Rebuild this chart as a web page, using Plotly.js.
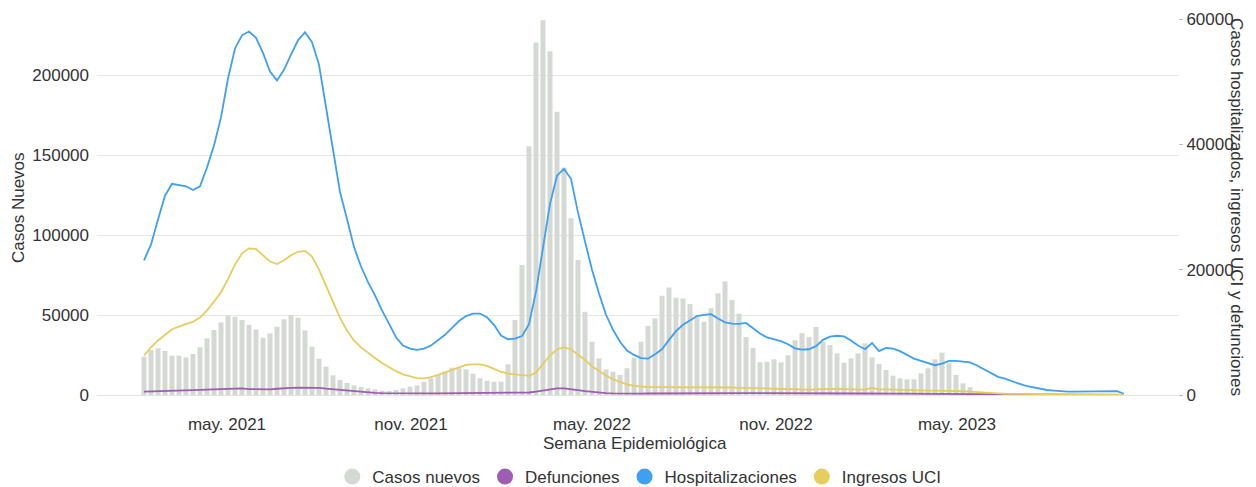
<!DOCTYPE html>
<html>
<head>
<meta charset="utf-8">
<script src="https://cdn.plot.ly/plotly-3.0.1.min.js"></script>
<style>
  html, body { margin: 0; padding: 0; background: #ffffff; }
  #chart { width: 1256px; height: 487px; }
</style>
</head>
<body>
<div id="chart"></div>
<script>
// ---- Data ----
// Epidemiological weeks: weekly, first week starting 2021-02-07
const firstWeek = '2021-02-07';
const nWeeks = 141;

// Weekly new cases (left axis), last weeks without bars
const casosNuevos = [23900, 28100, 29200, 27500, 24600, 24600, 23500, 25600, 29800, 35400,
  40600, 45400, 49600, 48900, 46900, 43750, 41000, 35800, 38500, 42700,
  47300, 50000, 48300, 40400, 30200, 22700, 17700, 12300, 9400, 7500,
  6000, 5000, 4200, 3500, 2700, 2500, 3100, 4200, 5200, 6000,
  8300, 10400, 12500, 14600, 17100, 16700, 16000, 13300, 10400, 8900,
  8300, 8300, 19200, 46900, 81250, 155400, 220300, 234200, 214800, 177000,
  142000, 110400, 84400, 52000, 33300, 22900, 16000, 14600, 12500, 16700,
  23200, 33300, 43100, 47900, 62000, 67200, 60800, 60300, 56900, 48500,
  45800, 54200, 63500, 71000, 59400, 50800, 36300, 29400, 20400, 20800,
  22300, 20400, 24800, 34200, 38700, 36300, 42500, 33300, 31250, 26000,
  20200, 22900, 26000, 32300, 23500, 19400, 15600, 12100, 10400, 9800,
  9800, 13500, 16700, 22300, 26500, 19800, 12500, 7300, 4900];

// Right axis series
const hospitalizaciones = [21500, 24000, 28000, 31800, 33700, 33500, 33300, 32700, 33300, 36300,
  39800, 44300, 50500, 55300, 57400, 58000, 57000, 54600, 51600, 50200,
  51900, 54300, 56600, 57900, 56300, 52700, 46000, 39100, 32400, 28100,
  23600, 20500, 18000, 15900, 13500, 11400, 9200, 7900, 7400, 7200,
  7400, 7900, 8700, 9600, 10700, 11800, 12600, 13000, 13000, 12400,
  11200, 9500, 8900, 9000, 9400, 11300, 16500, 23500, 30500, 35000,
  36100, 34500, 29100, 24500, 20000, 16200, 12800, 10400, 8500, 7100,
  6400, 5900, 5800, 6500, 7300, 8800, 10200, 11200, 11900, 12600,
  12800, 12900, 12200, 11600, 11400, 11350, 11500, 10700, 9800, 9200,
  8900, 8600, 8100, 7450, 7250, 7300, 7800, 8800, 9300, 9450,
  9350, 8700, 7900, 7300, 8300, 7000, 7500, 7400, 7000, 6400,
  5800, 5450, 5100, 4750, 5000, 5450, 5450, 5300, 5200, 4700,
  4100, 3400, 2900, 2600, 2150, 1800, 1450, 1200, 950, 800,
  700, 600, 550, 550, 550, 600, 650, 650, 650, 620,
  200];

const ingresosUCI = [6300, 7600, 8700, 9600, 10500, 10900, 11250, 11700, 12350, 13500,
  14900, 16400, 18500, 20800, 22600, 23400, 23300, 22300, 21300, 20900,
  21500, 22300, 22850, 23000, 22100, 20000, 17500, 14800, 12300, 10300,
  8700, 7600, 6700, 5900, 5100, 4400, 3800, 3300, 2950, 2700,
  2650, 2850, 3200, 3600, 4050, 4450, 4800, 4900, 4900, 4650,
  4200, 3700, 3400, 3250, 3150, 3050, 3600, 5000, 6300, 7300,
  7600, 7300, 6500, 5600, 4600, 3800, 3100, 2500, 2100, 1700,
  1450, 1300, 1250, 1250, 1250, 1250, 1300, 1300, 1300, 1300,
  1250, 1250, 1200, 1200, 1200, 1150, 1150, 1100, 1100, 1050,
  1000, 950, 900, 850, 850, 850, 900, 950, 1000, 1000,
  950, 900, 850, 850, 1150, 900, 900, 850, 800, 800,
  750, 750, 700, 700, 700, 700, 650, 600, 550, 450,
  400, 300, 250, 200, 180, 150, 120, 100, 100, 90,
  80, 80, 70, 70, 70, 70, 70, 70, 70, 60,
  50];

const defunciones = [550, 600, 650, 700, 720, 750, 760, 780, 820, 860,
  900, 950, 1000, 1050, 1050, 950, 900, 900, 900, 1000,
  1100, 1150, 1170, 1170, 1170, 1150, 1000, 900, 780, 680,
  560, 450, 380, 330, 290, 270, 260, 250, 250, 250,
  250, 260, 270, 280, 290, 300, 300, 300, 290, 280,
  270, 270, 270, 280, 320, 400, 550, 750, 950, 1060,
  1050, 950, 780, 620, 480, 380, 310, 260, 230, 220,
  220, 230, 240, 250, 270, 290, 300, 310, 320, 330,
  330, 330, 320, 320, 310, 300, 300, 290, 280, 270,
  260, 250, 240, 230, 230, 240, 250, 260, 270, 270,
  260, 250, 240, 240, 260, 240, 230, 220, 210, 200,
  190, 180, 170, 160, 160, 160, 150, 140, 130, 120,
  110, 100, 90, 80, 70, 60, 60, 50, 50, 50,
  40, 40, 40, 40, 40, 40, 40, 40, 40, 40,
  30];

const tickDates = ['2021-05-01', '2021-11-01', '2022-05-01', '2022-11-01', '2023-05-01'];
const tickLabels = ['may. 2021', 'nov. 2021', 'may. 2022', 'nov. 2022', 'may. 2023'];
const leftTicks = [0, 50000, 100000, 150000, 200000];
const rightTicks = [0, 20000, 40000, 60000];

const seriesNames = ['Casos nuevos', 'Defunciones', 'Hospitalizaciones', 'Ingresos UCI'];
const seriesColors = ['#d4dad3', '#9e5cb3', '#3f9ff0', '#e6cd5e'];

// ---- Build weeks ----
const startMs = Date.parse(firstWeek + 'T00:00:00Z');
const weeks = [];
for (let i = 0; i < nWeeks; i++) {
  weeks.push(new Date(startMs + i * 7 * 86400000).toISOString().slice(0, 10));
}
const barWeeks = weeks.slice(0, casosNuevos.length);

const FONT = '"Liberation Sans", Arial, Helvetica, sans-serif';
const TXT = '#333333';

const traces = [
  { type: 'bar', x: barWeeks, y: casosNuevos, yaxis: 'y', name: seriesNames[0],
    marker: { color: seriesColors[0], line: { width: 0 } }, showlegend: false },
  { type: 'scatter', mode: 'lines', x: weeks, y: defunciones, yaxis: 'y2', name: seriesNames[1],
    line: { color: seriesColors[1], width: 1.8 }, showlegend: false },
  { type: 'scatter', mode: 'lines', x: weeks, y: hospitalizaciones, yaxis: 'y2', name: seriesNames[2],
    line: { color: seriesColors[2], width: 1.8 }, showlegend: false },
  { type: 'scatter', mode: 'lines', x: weeks, y: ingresosUCI, yaxis: 'y2', name: seriesNames[3],
    line: { color: seriesColors[3], width: 1.8 }, showlegend: false }
];
// legend entries drawn as circles
seriesNames.forEach((n, i) => {
  traces.push({ type: 'scatter', mode: 'markers', x: [null], y: [null], name: n,
    marker: { color: seriesColors[i], size: 20, symbol: 'circle' }, showlegend: true, hoverinfo: 'skip' });
});

const layout = {
  width: 1256, height: 487,
  margin: { l: 97, r: 78, t: 19, b: 92, pad: 0 },
  paper_bgcolor: '#ffffff', plot_bgcolor: '#ffffff',
  font: { family: FONT, size: 17, color: TXT },
  bargap: 0.28,
  showlegend: true,
  legend: { orientation: 'h', xref: 'container', yref: 'container',
    x: 0.509, xanchor: 'center', y: 0.0205, yanchor: 'middle',
    font: { family: FONT, size: 17, color: TXT }, itemsizing: 'trace', traceorder: 'normal' },
  xaxis: {
    type: 'date', range: ['2020-12-22', '2023-12-08'],
    tickmode: 'array', tickvals: tickDates, ticktext: tickLabels,
    showgrid: false, zeroline: false, showline: false, ticks: '',
    tickfont: { family: FONT, size: 17, color: TXT }, ticklabelstandoff: 17
  },
  yaxis: {
    range: [0, 235000], tickmode: 'array', tickvals: leftTicks, tickformat: 'd',
    showgrid: true, gridcolor: '#e6e6e6', gridwidth: 1,
    zeroline: true, zerolinecolor: '#e2e2e2', zerolinewidth: 1,
    showline: false, ticks: '', ticklabelstandoff: 7,
    tickfont: { family: FONT, size: 17, color: TXT }
  },
  yaxis2: {
    overlaying: 'y', side: 'right', range: [0, 60000],
    tickmode: 'array', tickvals: rightTicks, tickformat: 'd',
    showgrid: false, zeroline: false, showline: false,
    ticks: 'outside', ticklen: 4, tickcolor: '#bbbbbb', tickwidth: 1,
    tickfont: { family: FONT, size: 17, color: TXT }
  },
  annotations: [
    { text: 'Casos Nuevos', xref: 'paper', yref: 'paper', x: -0.0731, y: 0.5,
      textangle: -90, showarrow: false, xanchor: 'center', yanchor: 'middle',
      font: { family: FONT, size: 17, color: TXT } },
    { text: 'Casos hospitalizados, ingresos UCI y defunciones', xref: 'paper', yref: 'paper',
      x: 1.0546, y: 0.5, textangle: 90, showarrow: false, xanchor: 'center', yanchor: 'middle',
      font: { family: FONT, size: 17, color: TXT } },
    { text: 'Semana Epidemiológica', xref: 'paper', yref: 'paper', x: 0.498, y: -0.1277,
      showarrow: false, xanchor: 'center', yanchor: 'middle',
      font: { family: FONT, size: 17, color: TXT } }
  ]
};

Plotly.newPlot('chart', traces, layout, { displayModeBar: false, staticPlot: true });
</script>
</body>
</html>
